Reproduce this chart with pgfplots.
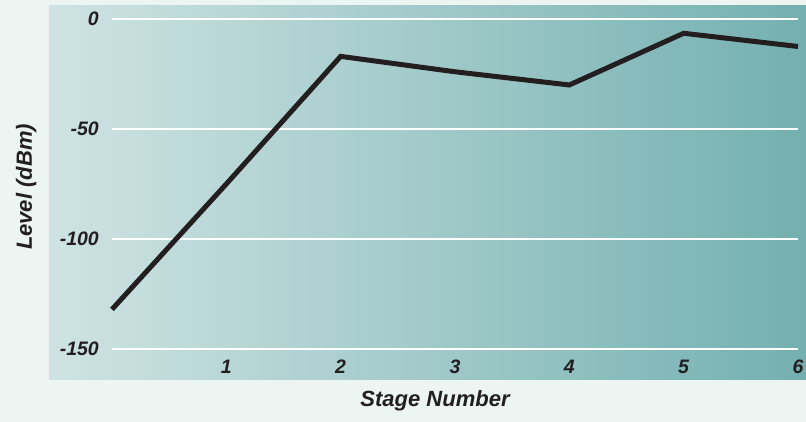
\documentclass[border=0pt]{standalone}
\usepackage{pgfplots}
\pgfplotsset{compat=1.18}
\usepackage{fontspec}
\setmainfont{Liberation Sans}

\definecolor{outerbg}{HTML}{EDF5F3}
\definecolor{panelL}{HTML}{CFE3E3}
\definecolor{panelR}{HTML}{74B0B0}
\definecolor{linecol}{HTML}{231F20}

\begin{document}
\begin{tikzpicture}
  % page background
  \fill[outerbg] (0,0) rectangle (806bp,422bp);
  \begin{axis}[
    at={(49bp,42bp)}, anchor=south west,
    scale only axis,
    width=757bp, height=374bp,
    xmin=-0.551, xmax=6.07,
    ymin=-164.1, ymax=5.9,
    axis line style={draw=none},
    tick style={draw=none},
    axis background/.style={shade, shading=axis, left color=panelL, right color=panelR},
    xtick={1,2,3,4,5,6},
    xticklabels={1,2,3,4,5,6},
    ytick={-150,-100,-50,0},
    yticklabels={-150,-100,-50,0},
    ticklabel style={font=\fontsize{19.5bp}{22bp}\selectfont\bfseries\itshape, text=linecol, inner sep=0pt},
    xticklabel style={anchor=base, yshift=6bp},
    yticklabel style={anchor=east, xshift=50bp},
    xlabel={Stage Number},
    ylabel={Level (dBm)},
    label style={font=\fontsize{22bp}{26bp}\selectfont\bfseries\itshape, text=linecol, inner sep=0pt},
    xlabel style={at={(axis description cs:0.51,0)}, anchor=base, yshift=-27bp},
    ylabel style={at={(axis description cs:-0.0225,0.516)}, anchor=base},
    clip=false,
  ]
    % white gridlines
    \draw[white, line width=2bp] (axis cs:0,0) -- (axis cs:6,0);
    \draw[white, line width=2bp] (axis cs:0,-50) -- (axis cs:6,-50);
    \draw[white, line width=2bp] (axis cs:0,-100) -- (axis cs:6,-100);
    \draw[white, line width=2bp] (axis cs:0,-150) -- (axis cs:6,-150);

    \addplot[linecol, line width=5bp, line join=miter] coordinates {
      (0, -132)
      (1, -75)
      (2, -17)
      (3, -24)
      (4, -30)
      (5, -6.5)
      (6, -12.5)
    };
  \end{axis}
\end{tikzpicture}
\end{document}
